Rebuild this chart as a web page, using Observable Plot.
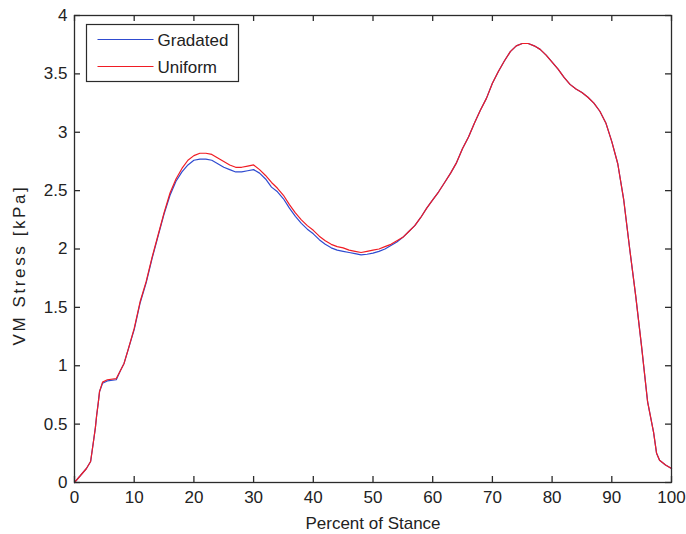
<!DOCTYPE html>
<html>
<head>
<meta charset="utf-8">
<script src="https://cdn.jsdelivr.net/npm/d3@7"></script>
<script src="https://cdn.jsdelivr.net/npm/@observablehq/plot@0.6"></script>
<style>
  html, body { margin: 0; padding: 0; background: #fff; }
  #chart { width: 686px; height: 534px; }
  svg { font-family: "Liberation Sans", Arial, sans-serif; }
</style>
</head>
<body>
<div id="chart"></div>
<script>
// Percent of stance sample points
const stance = [0,1,2,2.7,3.2,3.5,3.7,4,4.2,4.7,5.5,7,7.7,8.3,9,
  10,11,12,13,14,15,16,17,18,19,20,21,22,23,24,25,26,27,28,29,30,
  31,32,33,34,35,36,37,38,39,40,41,42,43,44,45,46,47,48,49,50,
  51,52,53,54,55,56,57,58,59,60,61,62,63,64,65,66,67,68,69,70,
  71,72,73,74,75,76,77,78,79,80,81,82,83,84,85,86,87,88,89,90,
  91,92,93,94,95,96,97,97.5,98,99,100];

// VM stress [kPa], uniform design
const uniform = [0,0.06,0.12,0.18,0.36,0.47,0.57,0.69,0.78,0.86,0.88,0.89,0.96,1.02,1.14,
  1.32,1.55,1.72,1.93,2.12,2.31,2.48,2.60,2.69,2.76,2.80,2.82,2.82,2.81,2.78,2.75,2.72,2.70,2.70,2.71,2.72,
  2.68,2.63,2.57,2.52,2.46,2.38,2.31,2.25,2.20,2.16,2.11,2.07,2.04,2.02,2.01,1.99,1.98,1.97,1.98,1.99,
  2.00,2.02,2.04,2.07,2.10,2.15,2.20,2.27,2.35,2.42,2.49,2.57,2.65,2.74,2.86,2.96,3.08,3.19,3.29,3.42,
  3.52,3.61,3.69,3.74,3.76,3.76,3.74,3.71,3.66,3.60,3.54,3.47,3.41,3.37,3.34,3.30,3.25,3.18,3.08,2.92,
  2.73,2.42,2.00,1.60,1.16,0.69,0.43,0.25,0.19,0.15,0.12];

// VM stress [kPa], gradated design
const gradated = [0,0.06,0.12,0.18,0.36,0.47,0.57,0.69,0.78,0.85,0.87,0.88,0.96,1.02,1.14,
  1.31,1.54,1.71,1.92,2.11,2.30,2.46,2.58,2.66,2.72,2.76,2.77,2.77,2.76,2.73,2.70,2.68,2.66,2.66,2.67,2.68,
  2.65,2.60,2.53,2.49,2.43,2.35,2.28,2.22,2.17,2.13,2.08,2.04,2.01,1.99,1.98,1.97,1.96,1.95,1.955,1.965,
  1.98,2.00,2.03,2.06,2.10,2.15,2.20,2.27,2.35,2.42,2.49,2.57,2.65,2.74,2.86,2.96,3.08,3.19,3.29,3.42,
  3.52,3.61,3.69,3.74,3.76,3.76,3.74,3.71,3.66,3.60,3.54,3.47,3.41,3.37,3.34,3.30,3.25,3.18,3.08,2.92,
  2.73,2.42,2.00,1.60,1.16,0.69,0.43,0.25,0.19,0.15,0.12];

const seriesNames = ["Gradated", "Uniform"];
const seriesColors = ["#2f4bd0", "#f01c24"];
const xTicks = [0,10,20,30,40,50,60,70,80,90,100];
const yTicks = [0,0.5,1,1.5,2,2.5,3,3.5,4];

const rows = [];
stance.forEach((p, i) => {
  rows.push({stance: p, stress: gradated[i], series: seriesNames[0]});
});
stance.forEach((p, i) => {
  rows.push({stance: p, stress: uniform[i], series: seriesNames[1]});
});

const axisColor = "#2b2b2b";
const fs = 17;
const W = 686, H = 534, mL = 74, mR = 15, mT = 15, mB = 52;
const innerW = W - mL - mR, innerH = H - mT - mB;
const tickLen = 6;

const chart = Plot.plot({
  width: W,
  height: H,
  marginLeft: mL,
  marginRight: mR,
  marginTop: mT,
  marginBottom: mB,
  style: {fontFamily: '"Liberation Sans", Arial, sans-serif', fontSize: fs + "px", color: "#222", background: "#fff"},
  x: {domain: [0, 100]},
  y: {domain: [0, 4]},
  color: {domain: seriesNames, range: seriesColors},
  marks: [
    Plot.line(rows, {x: "stance", y: "stress", z: "series", stroke: "series", strokeWidth: 1.2, curve: "linear"}),
    Plot.frame({stroke: axisColor, strokeWidth: 1.3}),
    // inward tick marks on all four sides
    Plot.tickX(xTicks, {x: d => d, insetTop: innerH - tickLen, stroke: axisColor, strokeWidth: 1.3}),
    Plot.tickX(xTicks, {x: d => d, insetBottom: innerH - tickLen, stroke: axisColor, strokeWidth: 1.3}),
    Plot.tickY(yTicks, {y: d => d, insetRight: innerW - tickLen, stroke: axisColor, strokeWidth: 1.3}),
    Plot.tickY(yTicks, {y: d => d, insetLeft: innerW - tickLen, stroke: axisColor, strokeWidth: 1.3}),
    Plot.axisX({anchor: "bottom", ticks: xTicks, tickSize: 0, tickPadding: 8, stroke: null,
      tickFormat: d => String(d), label: "Percent of Stance", labelAnchor: "center", labelArrow: "none", labelOffset: 46, fontSize: fs}),
    Plot.axisY({anchor: "left", ticks: yTicks, tickSize: 0, tickPadding: 7, stroke: null,
      tickFormat: d => String(d), label: "VM Stress [kPa]", labelAnchor: "center", labelArrow: "none", labelOffset: 62, fontSize: fs})
  ]
});

document.getElementById("chart").appendChild(chart);

const svgSel = d3.select(chart);

// widen and lower the y-axis title to match the original rendering
const yLabelG = svgSel.select('g[aria-label="y-axis label"]');
if (!yLabelG.empty()) {
  yLabelG.selectAll("text").attr("letter-spacing", "2.6px");
  const t0 = yLabelG.attr("transform") || "";
  yLabelG.attr("transform", (t0 + " translate(0,16)").trim());
}

// Legend box inside the plot frame (top-left), drawn with d3
const lg = svgSel.append("g").attr("transform", `translate(${mL + 12.5},${mT + 9.5})`);
lg.append("rect").attr("width", 152).attr("height", 57)
  .attr("fill", "#fff").attr("stroke", axisColor).attr("stroke-width", 1.2);
seriesNames.forEach((name, i) => {
  const yy = 15 + i * 27;
  lg.append("line").attr("x1", 11).attr("x2", 67).attr("y1", yy).attr("y2", yy)
    .attr("stroke", seriesColors[i]).attr("stroke-width", 1.2);
  lg.append("text").attr("x", 71).attr("y", yy + 6.5).text(name)
    .attr("text-anchor", "start")
    .attr("font-size", fs).attr("fill", "#222")
    .attr("font-family", '"Liberation Sans", Arial, sans-serif');
});
</script>
</body>
</html>
